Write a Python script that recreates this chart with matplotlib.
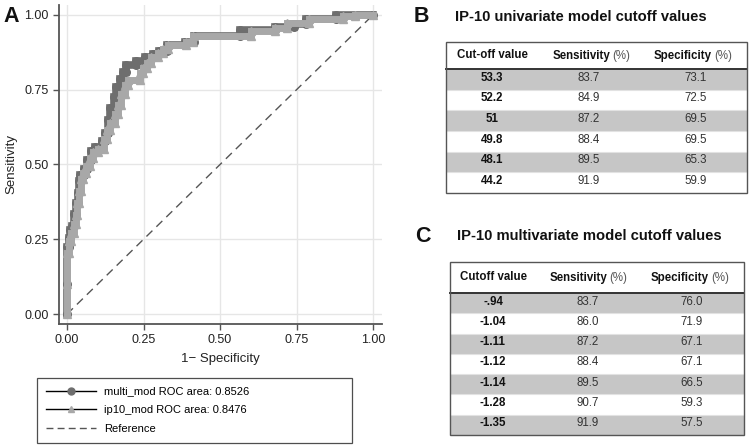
import matplotlib.pyplot as plt
from matplotlib.lines import Line2D
from matplotlib.patches import Rectangle

plt.rcParams['font.family'] = ['Liberation Sans', 'DejaVu Sans']

# --- ROC curve data ---
multi_fpr = [0.000, 0.000, 0.000, 0.005, 0.005, 0.010, 0.010, 0.018, 0.018, 0.024,
             0.024, 0.030, 0.030, 0.036, 0.036, 0.040, 0.040, 0.044, 0.044, 0.056,
             0.056, 0.066, 0.066, 0.078, 0.078, 0.092, 0.092, 0.114, 0.114, 0.124,
             0.124, 0.134, 0.134, 0.142, 0.142, 0.152, 0.152, 0.160, 0.160, 0.172,
             0.172, 0.184, 0.184, 0.194, 0.194, 0.226, 0.226, 0.256, 0.256, 0.282,
             0.282, 0.300, 0.300, 0.328, 0.328, 0.385, 0.385, 0.415, 0.415, 0.565,
             0.565, 0.680, 0.680, 0.740, 0.740, 0.780, 0.780, 0.880, 0.880, 1.000]
multi_tpr = [0.000, 0.100, 0.225, 0.225, 0.255, 0.255, 0.280, 0.280, 0.295, 0.295,
             0.335, 0.335, 0.370, 0.370, 0.405, 0.405, 0.445, 0.445, 0.465, 0.465,
             0.485, 0.485, 0.515, 0.515, 0.545, 0.545, 0.560, 0.560, 0.580, 0.580,
             0.605, 0.605, 0.650, 0.650, 0.690, 0.690, 0.725, 0.725, 0.760, 0.760,
             0.785, 0.785, 0.810, 0.810, 0.833, 0.833, 0.845, 0.845, 0.858, 0.858,
             0.868, 0.868, 0.880, 0.880, 0.898, 0.898, 0.908, 0.908, 0.930, 0.930,
             0.950, 0.950, 0.960, 0.960, 0.968, 0.968, 0.985, 0.985, 1.000, 1.000]

ip10_fpr = [0.000, 0.000, 0.000, 0.008, 0.008, 0.014, 0.014, 0.022, 0.022, 0.028,
            0.028, 0.034, 0.034, 0.040, 0.040, 0.046, 0.046, 0.052, 0.052, 0.062,
            0.062, 0.074, 0.074, 0.086, 0.086, 0.100, 0.100, 0.120, 0.120, 0.130,
            0.130, 0.142, 0.142, 0.156, 0.156, 0.168, 0.168, 0.178, 0.178, 0.188,
            0.188, 0.200, 0.200, 0.238, 0.238, 0.248, 0.248, 0.262, 0.262, 0.276,
            0.276, 0.296, 0.296, 0.312, 0.312, 0.330, 0.330, 0.390, 0.390, 0.412,
            0.412, 0.600, 0.600, 0.680, 0.680, 0.720, 0.720, 0.790, 0.790, 0.900,
            0.900, 0.940, 0.940, 1.000]
ip10_tpr = [0.000, 0.100, 0.205, 0.205, 0.245, 0.245, 0.270, 0.270, 0.300, 0.300,
            0.330, 0.330, 0.370, 0.370, 0.410, 0.410, 0.450, 0.450, 0.470, 0.470,
            0.495, 0.495, 0.520, 0.520, 0.540, 0.540, 0.550, 0.550, 0.585, 0.585,
            0.615, 0.615, 0.640, 0.640, 0.670, 0.670, 0.700, 0.700, 0.735, 0.735,
            0.765, 0.765, 0.783, 0.783, 0.805, 0.805, 0.822, 0.822, 0.840, 0.840,
            0.860, 0.860, 0.872, 0.872, 0.885, 0.885, 0.898, 0.898, 0.910, 0.910,
            0.930, 0.930, 0.945, 0.945, 0.957, 0.957, 0.972, 0.972, 0.987, 0.987,
            0.995, 0.995, 1.000, 1.000]

auc_multi = 0.8526
auc_ip10 = 0.8476
ref_line = [0, 1]

# --- cutoff tables ---
uni_header = ['Cut-off value', 'Sensitivity', 'Specificity']
uni_cutoff = ['53.3', '52.2', '51', '49.8', '48.1', '44.2']
uni_sens = ['83.7', '84.9', '87.2', '88.4', '89.5', '91.9']
uni_spec = ['73.1', '72.5', '69.5', '69.5', '65.3', '59.9']

mv_header = ['Cutoff value', 'Sensitivity', 'Specificity']
mv_cutoff = ['-.94', '-1.04', '-1.11', '-1.12', '-1.14', '-1.28', '-1.35']
mv_sens = ['83.7', '86.0', '87.2', '88.4', '89.5', '90.7', '91.9']
mv_spec = ['76.0', '71.9', '67.1', '67.1', '66.5', '59.3', '57.5']

DARK = '#6e6e6e'
LIGHT = '#a8a8a8'
TXT = 8.3

fig = plt.figure(figsize=(7.5, 4.46), dpi=100)
fig.patch.set_facecolor('white')

# --- Panel A: ROC ---
ax = fig.add_axes([0.0787, 0.2735, 0.4307, 0.7155])
ax.plot(multi_fpr, multi_tpr, color=DARK, lw=5.5, marker='o', ms=5.5,
        mec=DARK, mfc=DARK, solid_joinstyle='miter', zorder=3)
ax.plot(ip10_fpr, ip10_tpr, color=LIGHT, lw=5.0, marker='^', ms=5.5,
        mec=LIGHT, mfc=LIGHT, solid_joinstyle='miter', zorder=4)
ax.plot(ref_line, ref_line, color='#555555', lw=1, ls=(0, (6, 4)), zorder=2)

ax.set_xlim(-0.026, 1.029)
ax.set_ylim(-0.033, 1.033)
ticks = [0, 0.25, 0.5, 0.75, 1.0]
ax.set_xticks(ticks)
ax.set_yticks(ticks)
ax.set_xticklabels(['%.2f' % t for t in ticks], fontsize=9)
ax.set_yticklabels(['%.2f' % t for t in ticks], fontsize=9)
ax.grid(color='#e6e6e6', lw=1)
ax.set_axisbelow(True)
for s in ['top', 'right']:
    ax.spines[s].set_visible(False)
for s in ['left', 'bottom']:
    ax.spines[s].set_color('#555555')
    ax.spines[s].set_linewidth(1.3)
ax.tick_params(direction='out', length=4, color='#555555', width=1, labelcolor='#222222')
ax.set_xlabel('1\u2212 Specificity', fontsize=9.5, color='#222222', labelpad=5)
ax.set_ylabel('Sensitivity', fontsize=9.5, color='#222222', labelpad=5)

handles = [
    Line2D([], [], color='black', lw=1, marker='o', ms=5, mfc=DARK, mec=DARK),
    Line2D([], [], color='black', lw=1, marker='^', ms=5, mfc=LIGHT, mec=LIGHT),
    Line2D([], [], color='#555555', lw=1, ls=(0, (5, 3))),
]
labels = ['multi_mod ROC area: %.4f' % auc_multi,
          'ip10_mod ROC area: %.4f' % auc_ip10,
          'Reference']
leg = fig.legend(handles, labels, loc='upper left',
                 bbox_to_anchor=(37 / 750, 1 - 378 / 446, 315 / 750, 0.001),
                 mode='expand', fontsize=8, frameon=True, fancybox=False,
                 handlelength=4.5, handletextpad=0.75, labelspacing=0.8,
                 borderpad=0.8, borderaxespad=0)
leg.get_frame().set_edgecolor('#222222')
leg.get_frame().set_linewidth(0.9)

# --- overlay for labels and tables (pixel coordinates) ---
ov = fig.add_axes([0, 0, 1, 1])
ov.set_xlim(0, 750)
ov.set_ylim(446, 0)
ov.axis('off')

ov.text(3, 17, 'A', fontsize=15.5, fontweight='bold', va='center', ha='left', color='#111111')
ov.text(414, 17, 'B', fontsize=15.5, fontweight='bold', va='center', ha='left', color='#111111')
ov.text(455, 17, 'IP-10 univariate model cutoff values', fontsize=10.6,
        fontweight='bold', va='center', ha='left', color='#111111')
ov.text(415, 236, 'C', fontsize=15.5, fontweight='bold', va='center', ha='left', color='#111111')
ov.text(457, 236, 'IP-10 multivariate model cutoff values', fontsize=10.6,
        fontweight='bold', va='center', ha='left', color='#111111')


def draw_table(x0, x1, y0, yh, y1, cols, head, head_pct, c1, c2, c3):
    n = len(c1)
    rh = (y1 - yh) / n
    for i in range(n):
        top = yh + i * rh
        if i % 2 == 0:
            ov.add_patch(Rectangle((x0, top), x1 - x0, rh, facecolor='#c6c6c6',
                                   edgecolor='none', zorder=1))
        if i > 0:
            ov.plot([x0, x1], [top, top], color='#e2e2e2', lw=0.8, zorder=2)
        yc = top + rh * 0.42
        ov.text(cols[0], yc, c1[i], fontsize=TXT, fontweight='bold', ha='center',
                va='center', color='#111111', zorder=3)
        ov.text(cols[1], yc, c2[i], fontsize=TXT, ha='center', va='center',
                color='#333333', zorder=3)
        ov.text(cols[2], yc, c3[i], fontsize=TXT, ha='center', va='center',
                color='#333333', zorder=3)
    hc = (y0 + yh) / 2
    ov.text(cols[0], hc, head[0], fontsize=TXT, fontweight='bold', ha='center',
            va='center', color='#111111', zorder=3)
    for k in (1, 2):
        ov.text(head_pct[k - 1], hc, head[k], fontsize=TXT, fontweight='bold',
                ha='right', va='center', color='#111111', zorder=3)
        ov.text(head_pct[k - 1] + 2, hc, '(%)', fontsize=TXT, ha='left',
                va='center', color='#555555', zorder=3)
    ov.plot([x0, x1], [yh, yh], color='#333333', lw=1.4, zorder=4)
    ov.add_patch(Rectangle((x0, y0), x1 - x0, y1 - y0, facecolor='none',
                           edgecolor='#555555', lw=1, zorder=5))


draw_table(446, 747, 42, 69, 193, [492, 589, 696], uni_header, [610, 712],
           uni_cutoff, uni_sens, uni_spec)
draw_table(450, 744, 262, 293, 435, [493, 588, 692], mv_header, [607, 709],
           mv_cutoff, mv_sens, mv_spec)

fig.savefig('out.png', dpi=100, facecolor='white')
